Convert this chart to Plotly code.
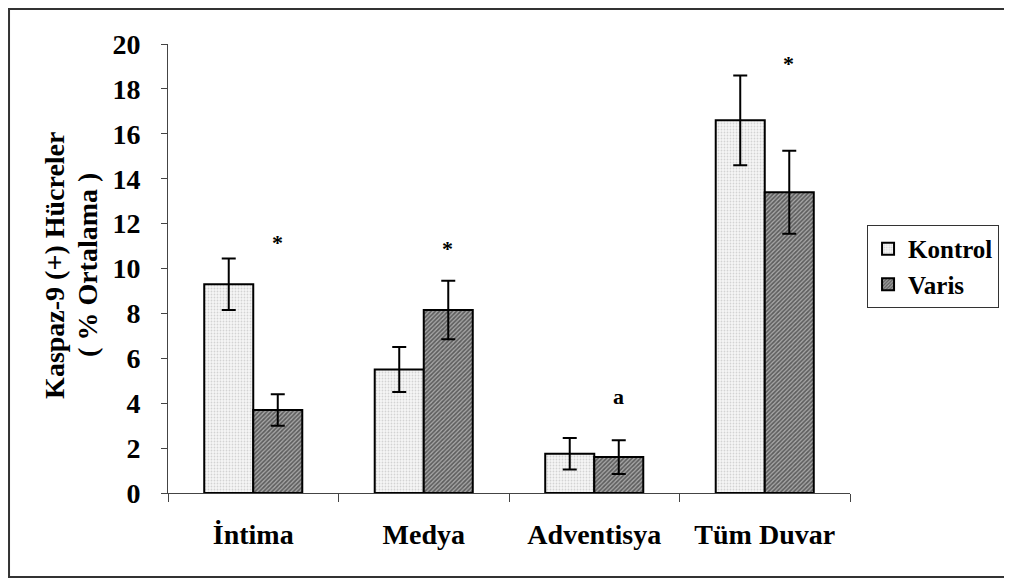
import plotly.graph_objects as go

categories = ["İntima", "Medya", "Adventisya", "Tüm Duvar"]
kontrol = [9.3, 5.5, 1.75, 16.6]
kontrol_err = [1.15, 1.0, 0.7, 2.0]
varis = [3.7, 8.15, 1.6, 13.4]
varis_err = [0.7, 1.3, 0.75, 1.85]
marks = ["*", "*", "a", "*"]
mark_y = [11.15, 10.9, 4.3, 19.15]
y_ticks = [0, 2, 4, 6, 8, 10, 12, 14, 16, 18, 20]
y_title = ["<b>Kaspaz-9 (+) Hücreler</b>", "<b>( % Ortalama )</b>"]

FONT = "Liberation Serif, Times New Roman, serif"
FS = 28

fig = go.Figure()
fig.add_trace(go.Bar(
    name="Kontrol", x=categories, y=kontrol,
    error_y=dict(type="data", array=kontrol_err, color="black", thickness=2, width=7),
    marker=dict(color="white", line=dict(color="black", width=2),
                pattern=dict(shape=".", fgcolor="#b0b0b0", bgcolor="#f6f6f6", size=3, solidity=0.3)),
))
fig.add_trace(go.Bar(
    name="Varis", x=categories, y=varis,
    error_y=dict(type="data", array=varis_err, color="black", thickness=2, width=7),
    marker=dict(color="white", line=dict(color="black", width=2),
                pattern=dict(shape="/", fgcolor="#111111", bgcolor="#a8a8a8", size=3, solidity=0.55)),
))

for c, m, yv in zip(categories, marks, mark_y):
    fig.add_annotation(x=c, y=yv, text=m, showarrow=False, xshift=24,
                       font=dict(family=FONT, size=22, color="black"))

for txt, xp in zip(y_title, [-0.1657, -0.1173]):
    fig.add_annotation(xref="paper", yref="paper", x=xp, y=0.508,
                       xanchor="center", yanchor="middle",
                       text=txt, textangle=-90, showarrow=False,
                       font=dict(family=FONT, size=FS, color="black"))

# outer frame
fig.add_shape(type="rect", xref="paper", yref="paper",
              x0=-0.2331, x1=1.4, y0=-0.1871, y1=1.078,
              line=dict(color="#333333", width=2), fillcolor="rgba(0,0,0,0)", layer="below")

fig.update_layout(
    width=1012, height=581,
    margin=dict(l=160, r=170, t=36, b=96, autoexpand=False),
    paper_bgcolor="white", plot_bgcolor="white",
    barmode="group", bargap=0.425, bargroupgap=0,
    font=dict(family=FONT, size=FS, color="black", weight="bold"),
    showlegend=True,
    legend=dict(x=1.025, y=0.597, xanchor="left", yanchor="top",
                bordercolor="#333333", borderwidth=1, bgcolor="white",
                font=dict(family=FONT, size=25, color="black", weight="bold"),
                itemwidth=30, tracegroupgap=4),
    xaxis=dict(showline=True, linecolor="#444444", linewidth=1, automargin=False,
               ticks="outside", ticklen=8, tickcolor="#444444", tickson="boundaries",
               ticklabelstandoff=16,
               showgrid=False, zeroline=False),
    yaxis=dict(range=[0, 20], tickvals=y_ticks, showline=True, linecolor="#444444", linewidth=1,
               automargin=False,
               ticks="outside", ticklen=6, tickcolor="#444444",
               showgrid=False, zeroline=False, ticklabelstandoff=15),
)

fig.write_html("out.html")
